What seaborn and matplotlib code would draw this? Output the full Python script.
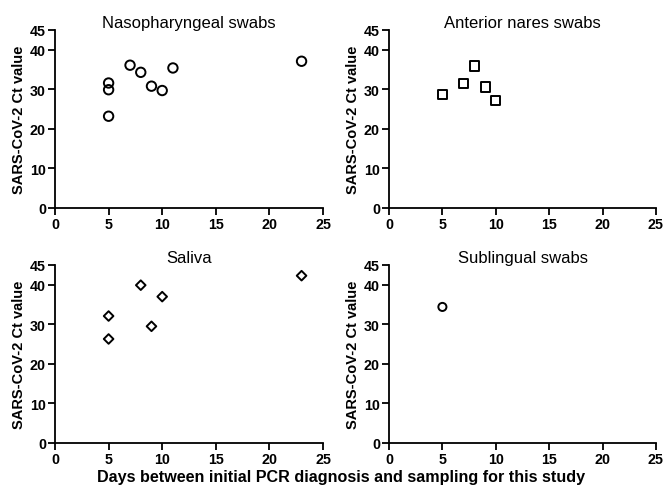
import matplotlib
matplotlib.use("Agg")
import matplotlib.pyplot as plt
import seaborn as sns
import pandas as pd

sns.set_theme(style="ticks")
plt.rcParams['font.family'] = ['Liberation Sans', 'DejaVu Sans']
plt.rcParams['text.color'] = 'black'
plt.rcParams['axes.labelcolor'] = 'black'
plt.rcParams['xtick.color'] = 'black'
plt.rcParams['ytick.color'] = 'black'

np_days = [5, 5, 5, 7, 8, 9, 10, 11, 23]
np_ct = [31.6, 29.9, 23.2, 36.1, 34.3, 30.8, 29.7, 35.4, 37.1]

an_days = [5, 7, 8, 9, 10]
an_ct = [28.6, 31.4, 35.9, 30.6, 27.1]

sal_days = [5, 5, 8, 9, 10, 23]
sal_ct = [32.1, 26.3, 39.9, 29.5, 37.0, 42.3]

sl_days = [5]
sl_ct = [34.4]

titles = ["Nasopharyngeal swabs", "Anterior nares swabs", "Saliva", "Sublingual swabs"]
markers = ["o", "s", "D", "o"]
sizes = [46, 44, 24, 34]
datasets = [(np_days, np_ct), (an_days, an_ct), (sal_days, sal_ct), (sl_days, sl_ct)]

xticks = [0, 5, 10, 15, 20, 25]
yticks = [0, 10, 20, 30, 40, 45]

fig = plt.figure(figsize=(6.66, 4.89), dpi=100)
W, H = 666, 489
boxes = [
    (55, 31, 323, 209),
    (389, 31, 656, 209),
    (55, 266, 323, 444),
    (389, 266, 656, 444),
]

for i, (x0, y0, x1, y1) in enumerate(boxes):
    ax = fig.add_axes([x0 / W, 1 - y1 / H, (x1 - x0) / W, (y1 - y0) / H])
    d, c = datasets[i]
    df = pd.DataFrame({"days": d, "ct": c})
    sns.scatterplot(data=df, x="days", y="ct", ax=ax, marker=markers[i], s=sizes[i],
                    facecolor="none", edgecolor="black", linewidth=1.4, clip_on=False)
    ax.set_xlim(0, 25)
    ax.set_ylim(0, 45)
    ax.set_xticks(xticks)
    ax.set_yticks(yticks)
    for lab in ax.get_xticklabels() + ax.get_yticklabels():
        lab.set_fontweight("bold")
        lab.set_fontsize(10.3)
    ax.tick_params(axis="both", direction="out", length=5, width=1.3, color="black", pad=1.5)
    sns.despine(ax=ax)
    for s in ["left", "bottom"]:
        ax.spines[s].set_linewidth(1.3)
        ax.spines[s].set_color("black")
    ax.set_xlabel("")
    ax.set_ylabel("SARS-CoV-2 Ct value", fontsize=10.5, fontweight="bold", labelpad=3)
    ax.set_title(titles[i], fontsize=12, pad=2)

fig.text(341 / W, 1 - 478 / H, "Days between initial PCR diagnosis and sampling for this study",
         ha="center", va="center", fontsize=11.6, fontweight="bold")

fig.savefig("out.png", dpi=100)
